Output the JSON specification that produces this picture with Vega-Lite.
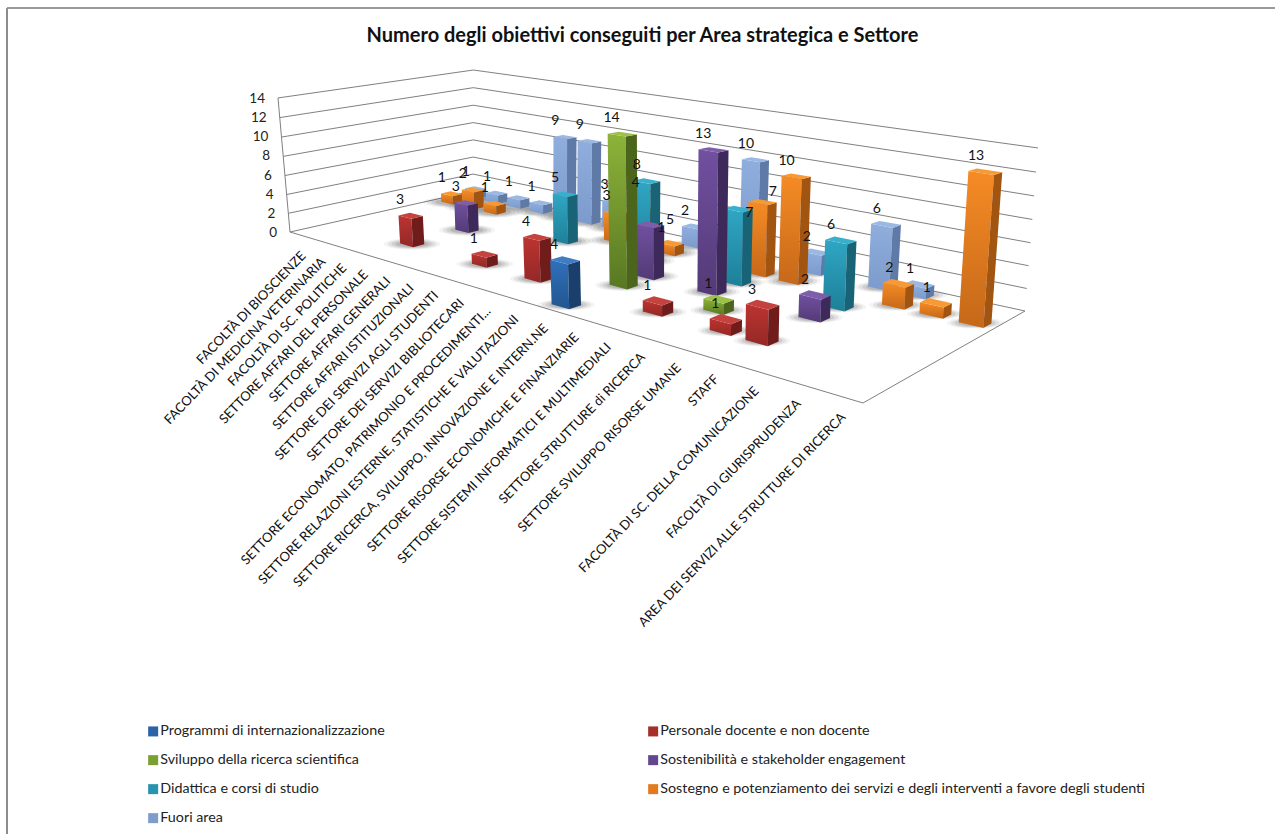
{
"$schema":"https://vega.github.io/schema/vega-lite/v6.json",
"width":1275,"height":834,"autosize":"none","padding":0,"background":"white",
"config":{"view":{"stroke":null},"font":"Lato"},
"title":{"text":"Numero degli obiettivi conseguiti per Area strategica e Settore","font":"Lato","fontSize":20,"fontWeight":"bold","color":"#111","anchor":"middle","dy":50,"dx":5},
"datasets":{
"sectors":[
{"sector":"FACOLTÀ DI BIOSCIENZE","n":1},
{"sector":"FACOLTÀ DI MEDICINA VETERINARIA","n":2},
{"sector":"FACOLTÀ DI SC. POLITICHE","n":3},
{"sector":"SETTORE AFFARI DEL PERSONALE","n":4},
{"sector":"SETTORE AFFARI GENERALI","n":5},
{"sector":"SETTORE AFFARI ISTITUZIONALI","n":6},
{"sector":"SETTORE DEI SERVIZI AGLI STUDENTI","n":7},
{"sector":"SETTORE DEI SERVIZI BIBLIOTECARI","n":8},
{"sector":"SETTORE ECONOMATO, PATRIMONIO E PROCEDIMENTI...","n":9},
{"sector":"SETTORE RELAZIONI ESTERNE, STATISTICHE E VALUTAZIONI","n":10},
{"sector":"SETTORE RICERCA, SVILUPPO, INNOVAZIONE E INTERN.NE","n":11},
{"sector":"SETTORE RISORSE ECONOMICHE E FINANZIARIE","n":12},
{"sector":"SETTORE SISTEMI INFORMATICI E MULTIMEDIALI","n":13},
{"sector":"SETTORE STRUTTURE di RICERCA","n":14},
{"sector":"SETTORE SVILUPPO RISORSE UMANE","n":15},
{"sector":"STAFF","n":16},
{"sector":"FACOLTÀ DI SC. DELLA COMUNICAZIONE","n":17},
{"sector":"FACOLTÀ DI GIURISPRUDENZA","n":18},
{"sector":"AREA DEI SERVIZI ALLE STRUTTURE DI RICERCA","n":19}],
"areas":[
{"area":"Programmi di internazionalizzazione","d":1},
{"area":"Personale docente e non docente","d":2},
{"area":"Sviluppo della ricerca scientifica","d":3},
{"area":"Sostenibilità e stakeholder engagement","d":4},
{"area":"Didattica e corsi di studio","d":5},
{"area":"Sostegno e potenziamento dei servizi e degli interventi a favore degli studenti","d":6},
{"area":"Fuori area","d":7}],
"levels":[{"level":0},{"level":2},{"level":4},{"level":6},{"level":8},{"level":10},{"level":12},{"level":14}],
"bars":[
{"area":"Fuori area","n":1,"value":1},{"area":"Fuori area","n":2,"value":1},{"area":"Fuori area","n":3,"value":1},{"area":"Fuori area","n":4,"value":1},{"area":"Fuori area","n":5,"value":9},{"area":"Fuori area","n":6,"value":9},{"area":"Fuori area","n":7,"value":3},{"area":"Fuori area","n":10,"value":2},{"area":"Fuori area","n":12,"value":10},{"area":"Fuori area","n":14,"value":2},{"area":"Fuori area","n":16,"value":6},{"area":"Fuori area","n":17,"value":1},
{"area":"Sostegno e potenziamento dei servizi e degli interventi a favore degli studenti","n":1,"value":1},{"area":"Sostegno e potenziamento dei servizi e degli interventi a favore degli studenti","n":2,"value":2},{"area":"Sostegno e potenziamento dei servizi e degli interventi a favore degli studenti","n":3,"value":1},{"area":"Sostegno e potenziamento dei servizi e degli interventi a favore degli studenti","n":8,"value":3},{"area":"Sostegno e potenziamento dei servizi e degli interventi a favore degli studenti","n":9,"value":4},{"area":"Sostegno e potenziamento dei servizi e degli interventi a favore degli studenti","n":10,"value":1},{"area":"Sostegno e potenziamento dei servizi e degli interventi a favore degli studenti","n":13,"value":7},{"area":"Sostegno e potenziamento dei servizi e degli interventi a favore degli studenti","n":14,"value":10},{"area":"Sostegno e potenziamento dei servizi e degli interventi a favore degli studenti","n":17,"value":2},{"area":"Sostegno e potenziamento dei servizi e degli interventi a favore degli studenti","n":18,"value":1},{"area":"Sostegno e potenziamento dei servizi e degli interventi a favore degli studenti","n":19,"value":13},
{"area":"Didattica e corsi di studio","n":7,"value":5},{"area":"Didattica e corsi di studio","n":10,"value":8},{"area":"Didattica e corsi di studio","n":13,"value":7},{"area":"Didattica e corsi di studio","n":16,"value":6},
{"area":"Sostenibilità e stakeholder engagement","n":4,"value":3},{"area":"Sostenibilità e stakeholder engagement","n":11,"value":5},{"area":"Sostenibilità e stakeholder engagement","n":13,"value":13},{"area":"Sostenibilità e stakeholder engagement","n":16,"value":2},
{"area":"Sviluppo della ricerca scientifica","n":11,"value":14},{"area":"Sviluppo della ricerca scientifica","n":14,"value":1},
{"area":"Personale docente e non docente","n":4,"value":3},{"area":"Personale docente e non docente","n":7,"value":1},{"area":"Personale docente e non docente","n":9,"value":4},{"area":"Personale docente e non docente","n":13,"value":1},{"area":"Personale docente e non docente","n":15,"value":1},{"area":"Personale docente e non docente","n":16,"value":3},
{"area":"Programmi di internazionalizzazione","n":11,"value":4}]
},
"data":{"name":"bars"},
"transform":[
{"lookup":"area","from":{"data":{"name":"areas"},"key":"area","fields":["d"]}},
{"calculate":"(datum.n-0.5)/19","as":"uc"},
{"calculate":"datum.uc+0.0097*(1-datum.uc)+0.0117*sin(PI*datum.uc)","as":"uc"},
{"calculate":"(datum.d-0.5)/7","as":"vc"},
{"calculate":"(258*datum.uc+251.66*datum.vc+290)/(1-0.365*datum.uc+0.14516*datum.vc)","as":"X"},
{"calculate":"(23.9*datum.uc-13.27*datum.vc+232)/(1-0.365*datum.uc+0.14516*datum.vc)","as":"Y"}
],
"encoding":{
"x":{"field":"X","type":"quantitative","scale":{"domain":[0,1275],"nice":false,"zero":false},"axis":null},
"y":{"field":"Y","type":"quantitative","scale":{"domain":[834,0],"nice":false,"zero":false},"axis":null}
},
"layer":[
{"mark":{"type":"rule","color":"#8c8c8c","strokeWidth":2},"encoding":{"x":{"datum":7},"y":{"datum":8},"y2":{"datum":834}}},
{"mark":{"type":"rule","color":"#9a9a9a","strokeWidth":2},"encoding":{"x":{"datum":7},"x2":{"datum":1275},"y":{"datum":8}}},
{"data":{"name":"levels"},
"transform":[
{"calculate":"datum.level==0?[[0,0,0,1],[1,0,0,0],[2,1,0,0],[3,1,1,0],[4,0,1,0],[5,0,0,0]]:[[0,0,0,datum.level/14],[1,0,1,datum.level/14],[2,1,1,datum.level/14]]","as":"vert"},
{"flatten":["vert"]},
{"calculate":"datum.vert[1]","as":"u"},{"calculate":"datum.vert[2]","as":"v"},{"calculate":"datum.vert[3]","as":"t"},{"calculate":"datum.vert[0]","as":"k"},
{"calculate":"(258*datum.u+251.66*datum.v+290-20.1*datum.t)/(1-0.365*datum.u+0.14516*datum.v-0.02913*datum.t)+6*datum.t*datum.v*(1-datum.u)","as":"X"},
{"calculate":"(23.9*datum.u-13.27*datum.v+232-136.9*datum.t)/(1-0.365*datum.u+0.14516*datum.v-0.02913*datum.t)+datum.t*datum.v*(7.2*datum.u-3.3*(1-datum.u))","as":"Y"}],
"mark":{"type":"line","color":"#808080","strokeWidth":1},
"encoding":{"detail":{"field":"level"},"order":{"field":"k"}}},
{"data":{"name":"levels"},
"transform":[
{"calculate":"(278*datum.level/14+290*(1-datum.level/14))-13","as":"X"},
{"calculate":"98*datum.level/14+232*(1-datum.level/14)+1","as":"Y"}],
"mark":{"type":"text","align":"right","baseline":"middle","font":"Lato","fontSize":13.5,"color":"#222"},
"encoding":{"text":{"field":"level"}}},
{"data":{"name":"sectors"},
"transform":[
{"calculate":"(datum.n-0.5)/19","as":"u"},
{"calculate":"258*datum.u/(1-0.365*datum.u)+290/(1-0.365*datum.u)+4","as":"X"},
{"calculate":"(23.9*datum.u+232)/(1-0.365*datum.u)+19","as":"Y"}],
"mark":{"type":"text","align":"right","baseline":"middle","angle":-46,"font":"Lato","fontSize":13.1,"color":"#111"},
"encoding":{"text":{"field":"sector"}}},
{"mark":{"type":"point","filled":true,"shape":"M-1,0A1,0.2 0 1 1 1,0A1,0.2 0 1 1 -1,0Z","color":"#444","opacity":0.06,"size":3200},"encoding":{}},
{"mark":{"type":"point","filled":true,"shape":"M-1,0A1,0.2 0 1 1 1,0A1,0.2 0 1 1 -1,0Z","color":"#444","opacity":0.1,"size":2400},"encoding":{}},
{"mark":{"type":"point","filled":true,"shape":"M-1,0A1,0.2 0 1 1 1,0A1,0.2 0 1 1 -1,0Z","color":"#444","opacity":0.12,"size":1700},"encoding":{}},
{"mark":{"type":"point","filled":true,"shape":"M-1,0A1,0.2 0 1 1 1,0A1,0.2 0 1 1 -1,0Z","color":"#444","opacity":0.16,"size":1100},"encoding":{}},
{"transform":[
{"calculate":"[[0,0,-1,-1,0],[0,1,1,-1,0],[0,2,1,-1,1],[0,3,-1,-1,1],[1,0,1,-1,0],[1,1,1,1,0],[1,2,1,1,1],[1,3,1,-1,1],[2,0,-1,-1,1],[2,1,1,-1,1],[2,2,1,1,1],[2,3,-1,1,1]]","as":"vert"},
{"flatten":["vert"]},
{"calculate":"datum.vert[1]","as":"k"},
{"calculate":"datum.uc+datum.vert[2]*0.0152","as":"u"},
{"calculate":"datum.vc+datum.vert[3]*0.028","as":"v"},
{"calculate":"datum.vert[4]*datum.value/14.5","as":"t"},
{"calculate":"(258*datum.u+251.66*datum.v+290-20.1*datum.t)/(1-0.365*datum.u+0.14516*datum.v-0.02913*datum.t)+6*datum.t*datum.v*(1-datum.u)","as":"X"},
{"calculate":"(23.9*datum.u-13.27*datum.v+232-136.9*datum.t)/(1-0.365*datum.u+0.14516*datum.v-0.02913*datum.t)+datum.t*datum.v*(7.2*datum.u-3.3*(1-datum.u))","as":"Y"},
{"calculate":"datum.vert[0]==1?['#1B3F6C','#6F1C1B','#4B651C','#3E2A5A','#186476','#A25411','#5F7AA6'][datum.d-1]:datum.vert[0]==2?['#3F7CC4','#C4433F','#9CC048','#7E5DAA','#3AAFCB','#F89A34','#9AB8E2'][datum.d-1]:{gradient:'linear',x1:0,y1:0,x2:0,y2:1,stops:[{offset:0,color:['#2F70BC','#BC3431','#8DB33A','#7150A0','#2FA6C4','#F58B25','#8FAEDD'][datum.d-1]},{offset:1,color:['#22568F','#932826','#587822','#533A76','#1E8098','#C56819','#7C9ACB'][datum.d-1]}]}","as":"paint"},
{"calculate":"datum.d+'-'+datum.n+'-'+datum.vert[0]","as":"face"}],
"mark":{"type":"line","strokeWidth":0,"interpolate":"linear"},
"encoding":{
"detail":{"field":"face"},
"order":{"field":"k"},
"fill":{"field":"paint","type":"nominal","legend":null,"scale":null}}},
{"transform":[
{"calculate":"datum.uc","as":"u"},
{"calculate":"datum.vc-0.028","as":"v"},
{"calculate":"datum.value/14.5","as":"t"},
{"calculate":"(258*datum.u+251.66*datum.v+290-20.1*datum.t)/(1-0.365*datum.u+0.14516*datum.v-0.02913*datum.t)+6*datum.t*datum.v*(1-datum.u)+(datum.d==4&&datum.n==11?30:datum.d==5&&datum.n==13?21:datum.d==6&&datum.n==13?20:datum.d==6&&datum.n==9?2:0)","as":"X"},
{"calculate":"(23.9*datum.u-13.27*datum.v+232-136.9*datum.t)/(1-0.365*datum.u+0.14516*datum.v-0.02913*datum.t)+datum.t*datum.v*(7.2*datum.u-3.3*(1-datum.u))+(datum.d==4&&datum.n==11?11:datum.d==5&&datum.n==13?20:datum.d==6&&datum.n==13?6:datum.d==6&&datum.n==9?-10:0)","as":"Y"}],
"mark":{"type":"text","font":"Lato","fontSize":14,"color":"#111","dx":-5,"dy":-17},
"encoding":{"text":{"field":"value","type":"quantitative"}}},
{"mark":{"type":"point","filled":true,"size":0,"opacity":1},
"encoding":{"color":{"field":"area","type":"nominal","scale":{
"domain":["Programmi di internazionalizzazione","Personale docente e non docente","Sviluppo della ricerca scientifica","Sostenibilità e stakeholder engagement","Didattica e corsi di studio","Sostegno e potenziamento dei servizi e degli interventi a favore degli studenti","Fuori area"],
"range":["#2A63A6","#A52E2B","#7BA032","#634690","#2893AE","#E27A20","#7F9CCB"]},
"legend":{"title":null,"orient":"none","legendX":146,"legendY":724,"columns":2,"direction":"horizontal","symbolType":"square","symbolSize":100,"symbolStrokeWidth":0,"symbolOpacity":1,"labelFont":"Lato","labelFontSize":14.3,"labelColor":"#222","labelLimit":700,"labelOffset":0,"rowPadding":14,"columnPadding":261}}}}
]
}
